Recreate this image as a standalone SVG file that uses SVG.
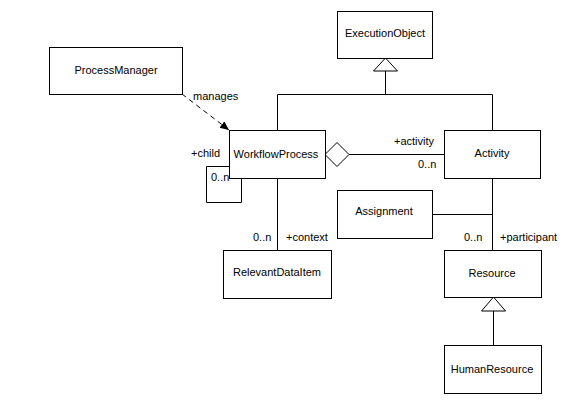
<svg xmlns="http://www.w3.org/2000/svg" width="573" height="419" viewBox="0 0 573 419">
<style>
.box{fill:#fff;stroke:#000;stroke-width:1}
.ln{fill:none;stroke:#000;stroke-width:1}
text{font-family:"Liberation Sans",Arial,sans-serif;font-size:11px;fill:#000}
.c{text-anchor:middle}
</style>
<defs>
<marker id="arr" markerWidth="10" markerHeight="10" refX="9" refY="4" orient="auto" markerUnits="userSpaceOnUse">
<path d="M0,0 L9,4 L0,8 Z" fill="#000"/>
</marker>
</defs>
<rect width="573" height="419" fill="#fff"/>
<g id="connectors">
<path class="ln" d="M385.5,71 V94.5 M277.5,94.5 H492.5 M277.5,94.5 V130 M492.5,94.5 V130"/>
<path d="M385.5,58 L373.5,71 L397.5,71 Z" fill="#fff" stroke="#000"/>
<path class="ln" d="M349,154.5 H444"/>
<path d="M325,154.5 L337,142.5 L349,154.5 L337,166.5 Z" fill="#fff" stroke="#000"/>
<path class="ln" d="M229,166.5 H206.5 V202.5 H241.5 V178"/>
<path class="ln" d="M277.5,178 V250"/>
<path class="ln" d="M492.5,178 V250 M432,214.5 H492.5"/>
<path class="ln" d="M493.5,311 V345"/>
<path d="M493.5,297 L481.5,311 L505.5,311 Z" fill="#fff" stroke="#000"/>
<path class="ln" d="M182,94 L229,130" stroke-dasharray="5,4" marker-end="url(#arr)"/>
<text x="193" y="100">manages</text>
<text x="191" y="157">+child</text>
<text x="211" y="181">0..n</text>
<text x="394" y="145">+activity</text>
<text x="418" y="168">0..n</text>
<text x="253" y="241">0..n</text>
<text x="286" y="241">+context</text>
<text x="464" y="241">0..n</text>
<text x="500" y="241">+participant</text>
</g>
<g id="ExecutionObject"><rect class="box" x="337.5" y="11.5" width="95" height="47"/><text class="c" x="385" y="37">ExecutionObject</text></g>
<g id="ProcessManager"><rect class="box" x="49.5" y="47.5" width="133" height="47"/><text class="c" x="116" y="74">ProcessManager</text></g>
<g id="WorkflowProcess"><rect class="box" x="229.5" y="130.5" width="96" height="48"/><text class="c" x="276" y="158">WorkflowProcess</text></g>
<g id="Activity"><rect class="box" x="444.5" y="130.5" width="96" height="48"/><text class="c" x="492" y="157">Activity</text></g>
<g id="Assignment"><rect class="box" x="337.5" y="190.5" width="95" height="48"/><text class="c" x="384" y="215">Assignment</text></g>
<g id="RelevantDataItem"><rect class="box" x="223.5" y="250.5" width="108" height="48"/><text class="c" x="277" y="276">RelevantDataItem</text></g>
<g id="Resource"><rect class="box" x="444.5" y="250.5" width="97" height="47"/><text class="c" x="492" y="277">Resource</text></g>
<g id="HumanResource"><rect class="box" x="444.5" y="345.5" width="97" height="48"/><text class="c" x="492" y="373">HumanResource</text></g>
</svg>
